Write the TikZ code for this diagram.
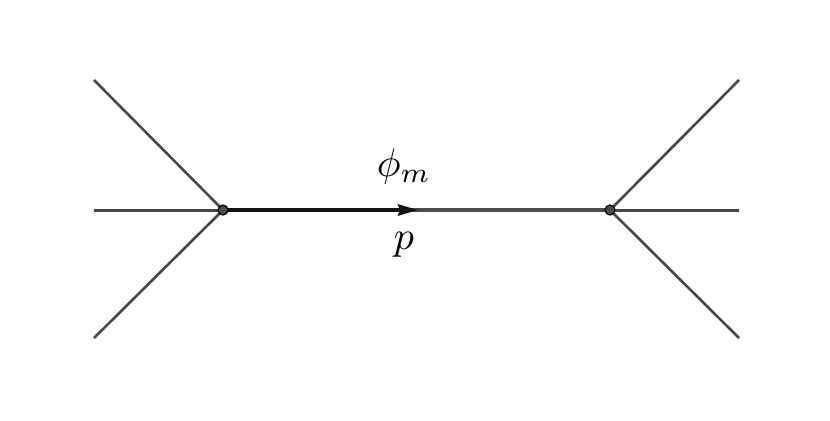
\documentclass[tikz,border=0pt]{standalone}
\usetikzlibrary{arrows.meta}
\begin{document}
\begin{tikzpicture}[x=0.25pt,y=-0.25pt,
  leg/.style={draw=black!72,line width=0.65pt},
  hleg/.style={draw=black!72,line width=0.75pt},
  prop/.style={draw=black!70,line width=0.95pt},
  propdark/.style={draw=black!92,line width=0.9pt,-{Stealth[length=5pt,width=2.8pt,inset=0.5pt]}},
  vtx/.style={circle,fill=black!70,draw=black,line width=0.3pt,inner sep=0pt,minimum size=2.5pt},
  lab/.style={inner sep=0pt,font=\normalsize}]
\useasboundingbox (0,0) rectangle (830,420);
\coordinate (l1) at (94,80);
\coordinate (l2) at (94,210);
\coordinate (l3) at (94,338);
\coordinate (r1) at (739,80);
\coordinate (r2) at (739,210);
\coordinate (r3) at (739,338);
\coordinate (mid) at (418,210);
\coordinate (under) at (400,210);
\coordinate (A) at (223,210);
\coordinate (B) at (610,210);
\draw[leg] (l1) -- (A);
\draw[hleg] (l2) -- (A);
\draw[leg] (l3) -- (A);
\draw[leg] (r1) -- (B);
\draw[hleg] (r2) -- (B);
\draw[leg] (r3) -- (B);
\draw[prop] (under) -- (B);
\draw[propdark] (A) -- (mid);
\node[vtx] (va) at (A) {};
\node[vtx] (vb) at (B) {};
\node[lab] (phi) at (404,166) {$\phi_m$};
\node[lab] (p) at (404,245) {$p$};
\end{tikzpicture}
\end{document}
